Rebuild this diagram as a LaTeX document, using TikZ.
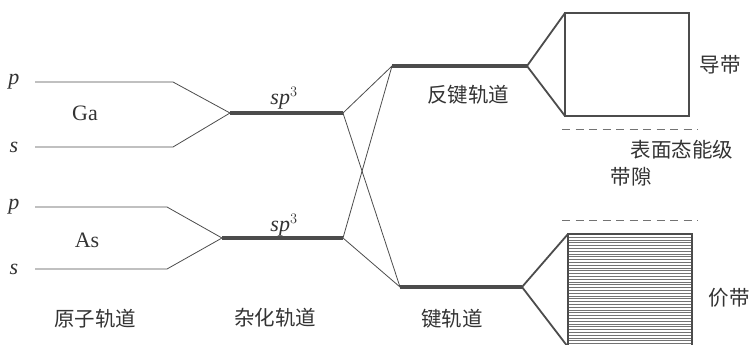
\documentclass[tikz,border=0pt]{standalone}
\usepackage{fontspec}
\setmainfont{Liberation Serif}
\newfontfamily\cjk{Noto Sans CJK SC}
\begin{document}
\begin{tikzpicture}[x=1pt,y=-1pt,
  thinln/.style={draw=black!70,line width=0.8pt},
  thickln/.style={draw=black!70,line width=4pt},
  bandln/.style={draw=black!70,line width=1.8pt,line join=miter},
  lbl/.style={text=black!80,inner sep=0pt,font=\fontsize{22}{24}\selectfont},
  clbl/.style={text=black!80,inner sep=0pt,font=\cjk\fontsize{20.5}{22}\selectfont},
  gapdash/.style={draw=black!55,line width=0.9pt,dash pattern=on 8pt off 5.5pt}]
\useasboundingbox (0,0) rectangle (752,345);
% coordinates
\coordinate (Gap) at (35,82);  \coordinate (GapB) at (173,82);
\coordinate (Gas) at (35,147); \coordinate (GasB) at (173,147);
\coordinate (Gaj) at (230,113); \coordinate (Gae) at (343,113);
\coordinate (Asp) at (35,207); \coordinate (AspB) at (167,207);
\coordinate (Ass) at (35,269); \coordinate (AssB) at (167,269);
\coordinate (Asj) at (222,238); \coordinate (Ase) at (343,238);
\coordinate (AB1) at (392,66); \coordinate (AB2) at (527,66);
\coordinate (B1) at (400,287); \coordinate (B2) at (522,287);
\coordinate (CBtl) at (565,13); \coordinate (CBbr) at (689,116);
\coordinate (CBbl) at (565,116);
\coordinate (VBtl) at (568,234); \coordinate (VBbl) at (568,347);
\coordinate (VBbr) at (692,347);
\coordinate (D1a) at (562,129); \coordinate (D1b) at (698,129);
\coordinate (D2a) at (562,220); \coordinate (D2b) at (698,220);
% atomic orbitals
\draw[thinln] (Gap) -- (GapB) -- (Gaj);
\draw[thinln] (Gas) -- (GasB) -- (Gaj);
\draw[thinln] (Asp) -- (AspB) -- (Asj);
\draw[thinln] (Ass) -- (AssB) -- (Asj);
% hybrid orbitals
\draw[thickln] (Gaj) -- (Gae);
\draw[thickln] (Asj) -- (Ase);
% crossing
\draw[thinln] (Gae) -- (AB1);
\draw[thinln] (Gae) -- (B1);
\draw[thinln] (Ase) -- (AB1);
\draw[thinln] (Ase) -- (B1);
% bonding / antibonding
\draw[thickln] (AB1) -- (AB2);
\draw[thickln] (B1) -- (B2);
% conduction band
\draw[bandln] (CBtl) -- (AB2) -- (CBbl);
\draw[bandln] (CBtl) rectangle (CBbr);
% valence band hatching
\foreach \yy in {237,239.8,...,346} {
  \draw[draw=black!55,line width=0.5pt] (568,\yy) -- (692,\yy);
}
\draw[bandln] (VBtl) -- (B2) -- (VBbl);
\draw[bandln] (VBbl) -- (VBtl) -- (692,234) -- (VBbr);
% dashed gap lines
\draw[gapdash] (D1a) -- (D1b);
\draw[gapdash] (D2a) -- (D2b);
% labels
\node[lbl] (lp1) at (14,82) {\textit{p}};
\node[lbl] (ls1) at (14,147) {\textit{s}};
\node[lbl] (lGa) at (85,113) {Ga};
\node[lbl] (lp2) at (14,207) {\textit{p}};
\node[lbl] (ls2) at (14,269) {\textit{s}};
\node[lbl] (lAs) at (87,240) {As};
\node[lbl] (lsp1) at (284,98) {\textit{sp}$^{\scriptstyle 3}$};
\node[lbl] (lsp2) at (284,225) {\textit{sp}$^{\scriptstyle 3}$};
\node[clbl] (lab) at (468,95) {反键轨道};
\node[clbl] (lb) at (452,319) {键轨道};
\node[clbl] (lao) at (95,319) {原子轨道};
\node[clbl] (lho) at (275,318) {杂化轨道};
\node[clbl] (lcb) at (720,65) {导带};
\node[clbl] (lss) at (682,150) {表面态能级};
\node[clbl] (lgap) at (631,177) {带隙};
\node[clbl] (lvb) at (729,298) {价带};
\end{tikzpicture}
\end{document}
